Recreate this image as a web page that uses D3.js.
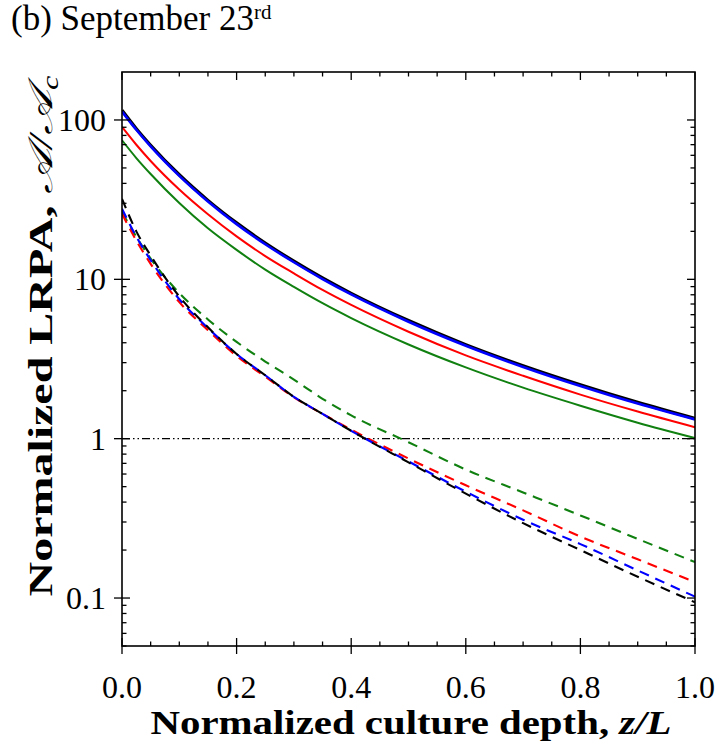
<!DOCTYPE html>
<html><head><meta charset="utf-8">
<script src="https://cdn.jsdelivr.net/npm/d3@7"></script>
<style>body{margin:0;background:#fff}svg{display:block}</style>
</head><body>
<svg id="c" width="717" height="742"></svg>
<script>
// ---- data ----
const depth = [0, 0.025, 0.05, 0.1, 0.15, 0.2, 0.25, 0.3, 0.35, 0.4, 0.5, 0.6, 0.7, 0.8, 0.9, 1.0];
const solidBlack = [115, 88.2, 69.4, 45.3, 31.3, 22.6, 16.9, 13.0, 10.2, 8.17, 5.51, 3.89, 2.87, 2.18, 1.69, 1.34];
const solidBlue  = [113, 86.8, 68.3, 44.6, 30.8, 22.2, 16.6, 12.8, 10.04, 8.04, 5.42, 3.83, 2.82, 2.14, 1.66, 1.32];
const solidRed   = [90.4, 69.9, 55.3, 36.6, 25.6, 18.6, 14.0, 10.9, 8.58, 6.91, 4.69, 3.33, 2.48, 1.89, 1.48, 1.18];
const solidGreen = [74.6, 57.7, 45.8, 30.1, 20.9, 15.3, 11.5, 8.96, 7.08, 5.71, 3.90, 2.80, 2.09, 1.61, 1.26, 1.01];
const dashBlack  = [32, 20.0, 14.1, 7.8, 5.0, 3.4, 2.5, 1.83, 1.43, 1.12, 0.71, 0.452, 0.295, 0.20, 0.136, 0.094];
const dashBlue   = [27.7, 18.5, 13.2, 7.5, 4.95, 3.4, 2.5, 1.83, 1.43, 1.12, 0.72, 0.465, 0.31, 0.218, 0.149, 0.102];
const dashRed    = [25.8, 17.5, 12.5, 7.2, 4.8, 3.3, 2.45, 1.82, 1.43, 1.14, 0.75, 0.51, 0.355, 0.243, 0.175, 0.126];
const dashGreen  = [26.4, 18.5, 13.5, 8.2, 5.6, 4.05, 3.05, 2.35, 1.78, 1.40, 0.95, 0.64, 0.46, 0.33, 0.235, 0.168];
const refLevel = 1;
const xTicks = [0, 0.2, 0.4, 0.6, 0.8, 1.0];
const xTickLabels = ["0.0", "0.2", "0.4", "0.6", "0.8", "1.0"];
const xMinor = [0.05,0.1,0.15,0.25,0.3,0.35,0.45,0.5,0.55,0.65,0.7,0.75,0.85,0.9,0.95];
const yTicks = [0.1, 1, 10, 100];
const yTickLabels = ["0.1", "1", "10", "100"];
const yMinor = [0.05,0.06,0.07,0.08,0.09,0.2,0.3,0.4,0.5,0.6,0.7,0.8,0.9,2,3,4,5,6,7,8,9,20,30,40,50,60,70,80,90];

// ---- layout ----
const L = 122, R = 695, T = 72, B = 646;
const svg = d3.select("#c");
const x = d3.scaleLinear().domain([0, 1]).range([L, R]);
const y = d3.scaleLog().domain([0.05, 200]).range([B, T]);

const serif = "'Liberation Serif','Times New Roman',serif";

const line = d3.line().x(d => x(d[0])).y(d => y(d[1])).curve(d3.curveMonotoneX);
const g = svg.append("g");
g.append("clipPath").attr("id","clip").append("rect").attr("x",L).attr("y",T).attr("width",R-L).attr("height",B-T);
const plot = g.append("g").attr("clip-path","url(#clip)");

// reference line at 1
plot.append("line").attr("x1", L).attr("x2", R).attr("y1", y(refLevel)).attr("y2", y(refLevel))
  .attr("stroke", "#000").attr("stroke-width", 1.3).attr("stroke-dasharray", "8,3,1.5,3,1.5,3");

const dashed = [
  [dashGreen, "#108010"], [dashRed, "#ff0000"], [dashBlue, "#0000ff"], [dashBlack, "#000000"]
];
dashed.forEach(([v, c]) => {
  plot.append("path").datum(depth.map((d, i) => [d, v[i]]))
    .attr("d", line).attr("fill", "none").attr("stroke", c).attr("stroke-width", 2.1)
    .attr("stroke-dasharray", "10,7");
});
const solid = [
  [solidGreen, "#108010", 2], [solidRed, "#ff0000", 2], [solidBlack, "#000000", 3.2], [solidBlue, "#0000ff", 2.6]
];
solid.forEach(([v, c, w]) => {
  plot.append("path").datum(depth.map((d, i) => [d, v[i]]))
    .attr("d", line).attr("fill", "none").attr("stroke", c).attr("stroke-width", w);
});

// frame
g.append("rect").attr("x", L).attr("y", T).attr("width", R - L).attr("height", B - T)
  .attr("fill", "none").attr("stroke", "#000").attr("stroke-width", 1.6);

const tk = g.append("g").attr("stroke", "#000").attr("stroke-width", 1.3);
xTicks.forEach(v => {
  tk.append("line").attr("x1", x(v)).attr("x2", x(v)).attr("y1", B - 8).attr("y2", B + 8);
  tk.append("line").attr("x1", x(v)).attr("x2", x(v)).attr("y1", T).attr("y2", T + 8);
});
xMinor.forEach(v => {
  tk.append("line").attr("x1", x(v)).attr("x2", x(v)).attr("y1", B - 4.5).attr("y2", B);
  tk.append("line").attr("x1", x(v)).attr("x2", x(v)).attr("y1", T).attr("y2", T + 4.5);
});
yTicks.forEach(v => {
  tk.append("line").attr("y1", y(v)).attr("y2", y(v)).attr("x1", L - 8).attr("x2", L + 8);
  tk.append("line").attr("y1", y(v)).attr("y2", y(v)).attr("x1", R - 8).attr("x2", R);
});
yMinor.forEach(v => {
  tk.append("line").attr("y1", y(v)).attr("y2", y(v)).attr("x1", L).attr("x2", L + 4.5);
  tk.append("line").attr("y1", y(v)).attr("y2", y(v)).attr("x1", R - 4.5).attr("x2", R);
});

// tick labels
xTicks.forEach((v, i) => {
  g.append("text").attr("x", x(v)).attr("y", 698).attr("text-anchor", "middle")
    .attr("font-family", serif).attr("font-size", 32).text(xTickLabels[i]);
});
yTicks.forEach((v, i) => {
  g.append("text").attr("x", 106).attr("y", y(v) + 11).attr("text-anchor", "end")
    .attr("font-family", serif).attr("font-size", 32).text(yTickLabels[i]);
});

// axis titles
const xt = g.append("text").attr("x", 411).attr("y", 734).attr("text-anchor", "middle")
  .attr("font-family", serif).attr("font-size", 34).attr("font-weight", "bold")
  .attr("textLength", 521).attr("lengthAdjust", "spacingAndGlyphs");
xt.append("tspan").text("Normalized culture depth, ");
xt.append("tspan").attr("font-style", "italic").text("z/L");

const yt = g.append("text").attr("transform", "translate(52,336) rotate(-90)").attr("text-anchor", "middle")
  .attr("font-family", serif).attr("font-size", 34).attr("font-weight", "bold")
  .attr("textLength", 521).attr("lengthAdjust", "spacingAndGlyphs");
yt.append("tspan").text("Normalized LRPA, ");
yt.append("tspan").attr("font-weight", "normal").attr("font-style", "italic").text("𝒜/𝒜");
yt.append("tspan").attr("font-weight", "normal").attr("font-style", "italic").attr("font-size", 23).attr("dy", 6).text("c");

// title
const tt = g.append("text").attr("x", 11).attr("y", 30).attr("font-family", serif).attr("font-size", 35);
tt.append("tspan").text("(b) September 23");
tt.append("tspan").attr("font-size", 21).attr("dy", -11).text("rd");
</script>
</body></html>
